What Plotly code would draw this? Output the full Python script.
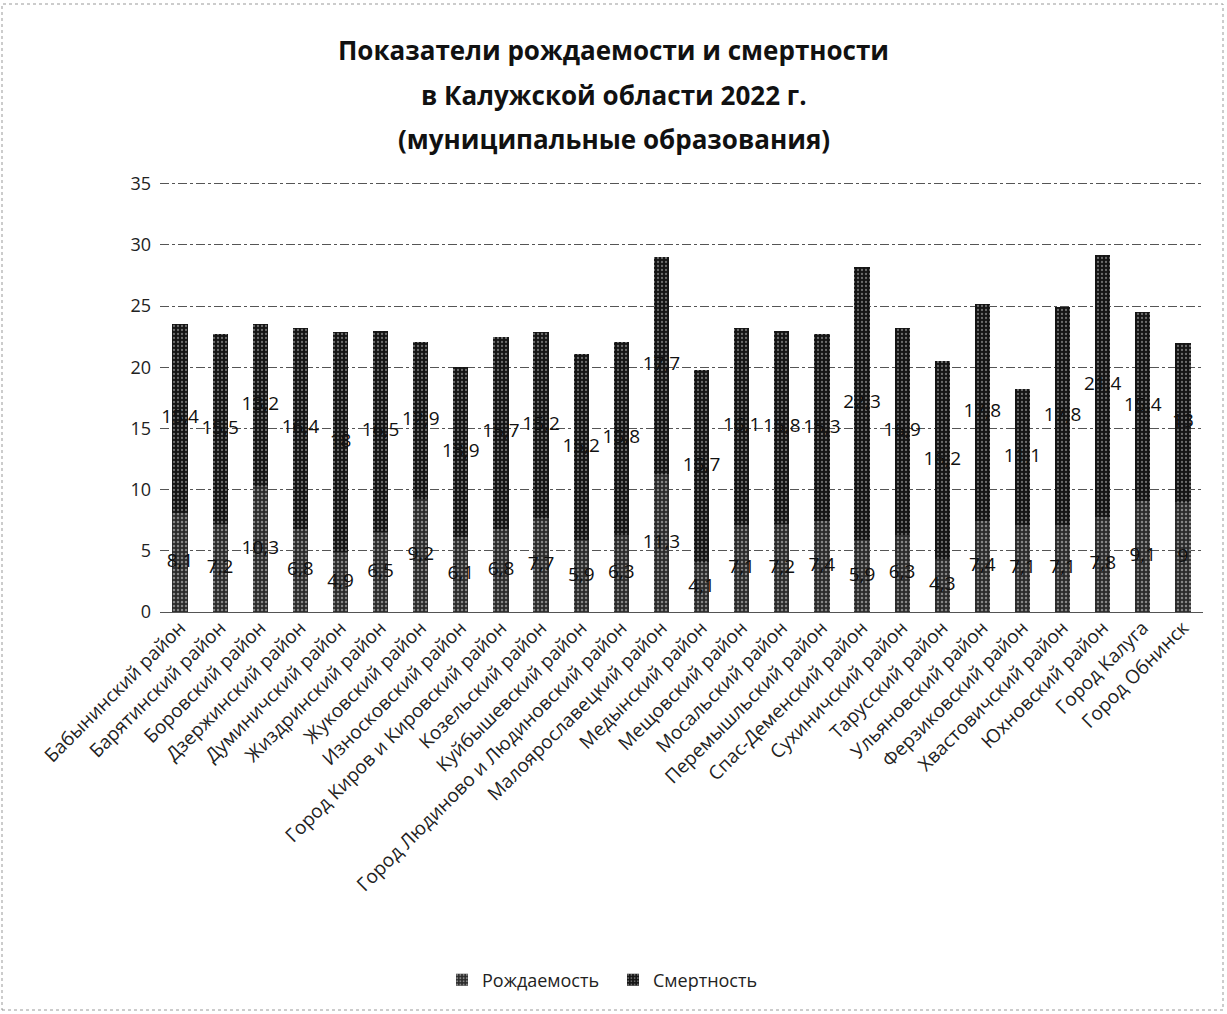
import plotly.graph_objects as go

categories = [
    "Бабынинский район", "Барятинский район", "Боровский район", "Дзержинский район",
    "Думиничский район", "Жиздринский район", "Жуковский район", "Износковский район",
    "Город Киров и Кировский район", "Козельский район", "Куйбышевский район",
    "Город Людиново и Людиновский район", "Малоярославецкий район", "Медынский район",
    "Мещовский район", "Мосальский район", "Перемышльский район", "Спас-Деменский район",
    "Сухиничский район", "Тарусский район", "Ульяновский район", "Ферзиковский район",
    "Хвастовичский район", "Юхновский район", "Город Калуга", "Город Обнинск",
]
births = [8.1, 7.2, 10.3, 6.8, 4.9, 6.5, 9.2, 6.1, 6.8, 7.7, 5.9, 6.3, 11.3, 4.1,
          7.1, 7.2, 7.4, 5.9, 6.3, 4.3, 7.4, 7.1, 7.1, 7.8, 9.1, 9]
deaths = [15.4, 15.5, 13.2, 16.4, 18, 16.5, 12.9, 13.9, 15.7, 15.2, 15.2, 15.8, 17.7, 15.7,
          16.1, 15.8, 15.3, 22.3, 16.9, 16.2, 17.8, 11.1, 17.8, 21.4, 15.4, 13]
y_ticks = [0, 5, 10, 15, 20, 25, 30, 35]
title_lines = ["Показатели рождаемости и смертности",
               "в Калужской области 2022 г.",
               "(муниципальные образования)"]


def fmt(v):
    return f"{v:g}".replace(".", ",")


font_family = "Open Sans, Noto Sans, sans-serif"
W, H = 1227, 1014
ML, MR, MT, MB = 160, 24, 180, 402
PW, PH = W - ML - MR, H - MT - MB

fig = go.Figure()
fig.add_trace(go.Bar(
    x=categories, y=births, name="Рождаемость",
    marker=dict(color="#2a2a2a", line=dict(width=0),
                pattern=dict(shape=".", fgcolor="#e0e0e0", bgcolor="#2a2a2a", size=4, solidity=0.3)),
))
fig.add_trace(go.Bar(
    x=categories, y=deaths, name="Смертность",
    marker=dict(color="#141414", line=dict(width=0),
                pattern=dict(shape=".", fgcolor="#c8c8c8", bgcolor="#141414", size=4, solidity=0.25)),
))
fig.add_trace(go.Scatter(
    x=categories, y=[b / 2 for b in births], mode="text",
    text=[fmt(b) for b in births], textposition="middle center",
    textfont=dict(size=19, color="#111111", family=font_family),
    showlegend=False, hoverinfo="skip",
))
fig.add_trace(go.Scatter(
    x=categories, y=[b + d / 2 for b, d in zip(births, deaths)], mode="text",
    text=[fmt(d) for d in deaths], textposition="middle center",
    textfont=dict(size=19, color="#111111", family=font_family),
    showlegend=False, hoverinfo="skip",
))

annotations = []
for line, ypx in zip(title_lines, [50, 95, 139]):
    annotations.append(dict(
        text=f"<b>{line}</b>", xref="paper", yref="paper",
        x=(W / 2 - ML) / PW, y=(H - MB - ypx) / PH, xanchor="center", yanchor="middle",
        showarrow=False, font=dict(size=26, color="#111111", family=font_family),
    ))

fig.update_layout(
    barmode="stack",
    bargap=0.62,
    width=W, height=H,
    margin=dict(l=ML, r=MR, t=MT, b=MB),
    paper_bgcolor="white", plot_bgcolor="white",
    font=dict(family=font_family, size=16, color="#222222"),
    annotations=annotations,
    legend=dict(orientation="h", x=(613 - ML) / PW, xanchor="center",
                y=-(980 - (H - MB)) / PH, yanchor="middle",
                entrywidth=126, entrywidthmode="pixels",
                font=dict(size=18, color="#222222"), traceorder="normal"),
    xaxis=dict(tickangle=-45, showgrid=False, showline=False, ticks="", automargin=False,
               range=[-0.5, len(categories) - 0.5],
               tickfont=dict(size=19, color="#222222")),
    yaxis=dict(range=[0, 35.3], tickvals=y_ticks, showgrid=True, gridcolor="#555555",
               griddash="dashdot", gridwidth=1, zeroline=True, zerolinecolor="#555555",
               zerolinewidth=1, ticks="", automargin=False, ticklabelstandoff=8,
               tickfont=dict(size=18, color="#222222")),
    shapes=[dict(type="rect", xref="paper", yref="paper",
                 x0=-158 / PW, x1=1 + 20 / PW, y0=-(MB - 4) / PH, y1=1 + (MT - 4) / PH,
                 line=dict(color="#999999", width=1, dash="dot"))],
)

fig.write_html("out.html")
